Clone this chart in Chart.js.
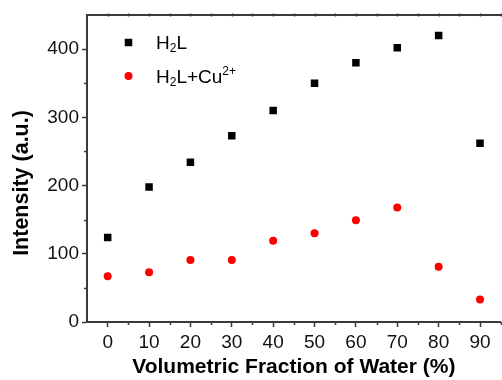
<!DOCTYPE html>
<html>
<head>
<meta charset="utf-8">
<script src="https://cdn.jsdelivr.net/npm/chart.js@4/dist/chart.umd.min.js"></script>
<style>
  html, body { margin: 0; padding: 0; overflow: hidden; background: #fff; }
  #wrap { width: 506px; height: 380px; }
</style>
</head>
<body>
<div id="wrap"><canvas id="c" width="506" height="380"></canvas></div>
<script>
// Volumetric fraction of water (%) for each measurement
const waterFraction = [0, 10, 20, 30, 40, 50, 60, 70, 80, 90];
// Emission intensity of the free ligand
const intensityH2L = [124, 198, 234, 273, 310, 350, 380, 402, 420, 262];
// Emission intensity after adding Cu2+
const intensityH2LCu = [67, 73, 91, 91, 119, 130, 149, 168, 81, 33];
// Axis tick labels
const xTickValues = [0, 10, 20, 30, 40, 50, 60, 70, 80, 90];
const yTickValues = [0, 100, 200, 300, 400];
const xMinorTicks = [5, 15, 25, 35, 45, 55, 65, 75, 85, 95];
const yMinorTicks = [50, 150, 250, 350];

const AXIS_COLOR = '#3a3a3a';
const FONT = 'Liberation Sans, Arial, sans-serif';

// Minor ticks, top frame line, axis titles and the legend with sub/superscripts
const decorations = {
  id: 'decorations',
  afterDraw(chart) {
    const { ctx, chartArea: a, scales: { x, y } } = chart;
    ctx.save();
    ctx.strokeStyle = AXIS_COLOR;
    ctx.lineWidth = 1.5;
    ctx.beginPath();
    for (const v of yMinorTicks) {
      const py = Math.round(y.getPixelForValue(v)) + 0.5;
      ctx.moveTo(a.left - 3, py); ctx.lineTo(a.left, py);
    }
    for (const v of xMinorTicks) {
      const px = Math.round(x.getPixelForValue(v)) + 0.5;
      ctx.moveTo(px, a.bottom); ctx.lineTo(px, a.bottom + 3);
    }
    ctx.stroke();

    // top frame with tiny ticks
    ctx.lineWidth = 2;
    ctx.beginPath();
    ctx.moveTo(a.left - 1, a.top); ctx.lineTo(a.right + 2, a.top);
    ctx.stroke();
    ctx.lineWidth = 1.5;
    ctx.beginPath();
    for (let v = 0; v <= 95; v += 5) {
      const px = Math.round(x.getPixelForValue(v)) + 0.5;
      ctx.moveTo(px, a.top - 1.5); ctx.lineTo(px, a.top + 1.5);
    }
    ctx.stroke();

    // axis titles
    ctx.fillStyle = '#000';
    ctx.font = 'bold 21px ' + FONT;
    ctx.textAlign = 'center';
    ctx.textBaseline = 'alphabetic';
    ctx.fillText('Volumetric Fraction of Water (%)', (a.left + a.right) / 2, 373);
    ctx.save();
    ctx.translate(28, 183);
    ctx.rotate(-Math.PI / 2);
    ctx.font = 'bold 21.5px ' + FONT;
    ctx.fillText('Intensity (a.u.)', 0, 0);
    ctx.restore();

    // legend
    const ds = chart.data.datasets;
    const mx = 128.5;
    const rows = [
      { y: 42.5, parts: [['H', 0], ['2', 1], ['L', 0]] },
      { y: 76, parts: [['H', 0], ['2', 1], ['L+Cu', 0], ['2+', 2]] }
    ];
    rows.forEach((row, i) => {
      const d = ds[i];
      ctx.fillStyle = d.backgroundColor;
      if (d.pointStyle === 'rect') {
        ctx.fillRect(mx - 3.75, row.y - 3.75, 7.5, 7.5);
      } else {
        ctx.beginPath();
        ctx.arc(mx, row.y, 4, 0, Math.PI * 2);
        ctx.fill();
      }
      ctx.fillStyle = '#000';
      ctx.textAlign = 'left';
      let tx = 156;
      const base = row.y + 6.5;
      for (const [txt, kind] of row.parts) {
        if (kind === 0) {
          ctx.font = '19px ' + FONT;
          ctx.fillText(txt, tx, base);
        } else if (kind === 1) {
          ctx.font = '12px ' + FONT;
          ctx.fillText(txt, tx, base + 3);
        } else {
          ctx.font = '12px ' + FONT;
          ctx.fillText(txt, tx, base - 8);
        }
        tx += ctx.measureText(txt).width;
      }
    });
    ctx.restore();
  }
};

new Chart(document.getElementById('c'), {
  type: 'scatter',
  data: {
    datasets: [
      {
        label: 'H2L',
        data: waterFraction.map((w, i) => ({ x: w, y: intensityH2L[i] })),
        pointStyle: 'rect',
        pointRadius: 5.3,
        backgroundColor: '#000000',
        borderColor: '#000000',
        borderWidth: 0
      },
      {
        label: 'H2L+Cu2+',
        data: waterFraction.map((w, i) => ({ x: w, y: intensityH2LCu[i] })),
        pointStyle: 'circle',
        pointRadius: 4,
        backgroundColor: '#ff0000',
        borderColor: '#ff0000',
        borderWidth: 0
      }
    ]
  },
  options: {
    responsive: false,
    devicePixelRatio: 1,
    animation: false,
    layout: { padding: { top: 15, right: 1, left: 0, bottom: 0 } },
    plugins: { legend: { display: false }, tooltip: { enabled: false } },
    scales: {
      x: {
        type: 'linear',
        min: -5,
        max: 95,
        border: { color: AXIS_COLOR, width: 2 },
        grid: { drawOnChartArea: false, tickLength: 5, tickColor: AXIS_COLOR, tickWidth: 1.5 },
        ticks: { color: '#111', font: { family: FONT, size: 19 }, padding: 4, maxRotation: 0 },
        afterBuildTicks: s => { s.ticks = xTickValues.map(v => ({ value: v })); },
        afterFit: s => { s.height = 58; }
      },
      y: {
        type: 'linear',
        min: 0,
        max: 450,
        border: { color: AXIS_COLOR, width: 2 },
        grid: { drawOnChartArea: false, tickLength: 5, tickColor: AXIS_COLOR, tickWidth: 1.5 },
        ticks: { color: '#111', font: { family: FONT, size: 19 }, padding: 3 },
        afterBuildTicks: s => { s.ticks = yTickValues.map(v => ({ value: v })); },
        afterFit: s => { s.width = 87; }
      }
    }
  },
  plugins: [decorations]
});
</script>
</body>
</html>
